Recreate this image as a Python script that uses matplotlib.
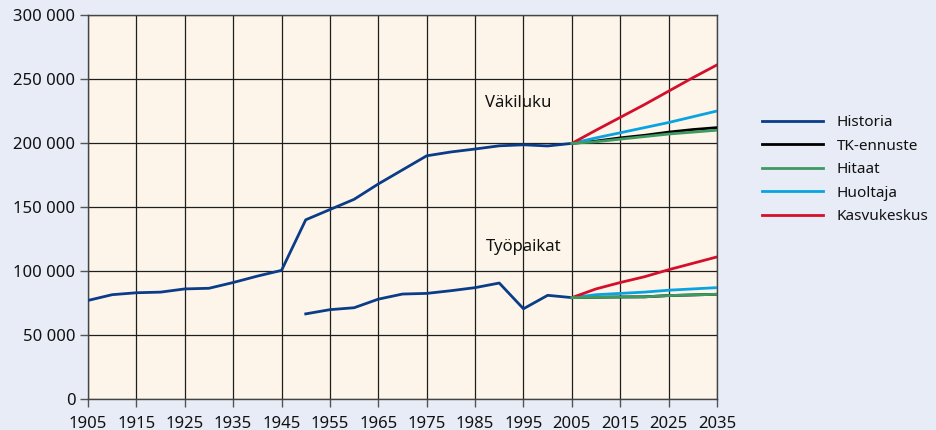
import matplotlib
matplotlib.use("Agg")
import matplotlib.pyplot as plt
from matplotlib.ticker import FuncFormatter, MultipleLocator

plt.rcParams['font.family'] = ['Noto Sans', 'DejaVu Sans']

# History
hist_years_pop = [1905, 1910, 1915, 1920, 1925, 1930, 1935, 1940, 1945, 1950, 1955, 1960,
                  1965, 1970, 1975, 1980, 1985, 1990, 1995, 2000, 2005]
hist_pop = [77000, 81500, 83000, 83500, 86000, 86500, 91000, 96000, 100500, 140000, 148000,
            156000, 168000, 179000, 190000, 193000, 195300, 197800, 198600, 197700, 199700]

hist_years_jobs = [1950, 1955, 1960, 1965, 1970, 1975, 1980, 1985, 1990, 1995, 2000, 2005]
hist_jobs = [66500, 69800, 71300, 78000, 82000, 82500, 84600, 87000, 90600, 70500, 81000, 79200]

# Projections
proj_years = [2005, 2010, 2015, 2020, 2025, 2030, 2035]
pop_tk = [199700, 201500, 204000, 206000, 208500, 210500, 212000]
pop_hitaat = [199700, 201000, 203000, 205000, 207000, 208500, 210000]
pop_huoltaja = [199700, 204000, 208000, 212000, 216000, 220500, 225000]
pop_kasvu = [199700, 210000, 220000, 230000, 240500, 251000, 261000]

jobs_tk = [79200, 79500, 79700, 79800, 80800, 81300, 81800]
jobs_hitaat = [79200, 79500, 79700, 79800, 80800, 81300, 81800]
jobs_huoltaja = [79200, 81500, 82500, 83500, 85000, 86000, 87000]
jobs_kasvu = [79200, 86000, 91000, 95500, 101000, 106000, 111000]

labels = ['Historia', 'TK-ennuste', 'Hitaat', 'Huoltaja', 'Kasvukeskus']
colors = ['#0b3c88', '#000000', '#3f9a62', '#0aa3e2', '#d40f2b']
xticks = list(range(1905, 2036, 10))

fig = plt.figure(figsize=(9.37, 4.30), dpi=100)
fig.patch.set_facecolor('#e8ecf6')
ax = fig.add_axes([88/937, 31/430, (717-88)/937, (399-15)/430])
ax.set_facecolor('#fef5ea')

lw = 2.0
ax.plot(hist_years_pop, hist_pop, color=colors[0], lw=lw, label=labels[0], zorder=3)
ax.plot(hist_years_jobs, hist_jobs, color=colors[0], lw=lw, zorder=3)
ax.plot(proj_years, pop_tk, color=colors[1], lw=lw, label=labels[1], zorder=3)
ax.plot(proj_years, jobs_tk, color=colors[1], lw=lw, zorder=3)
ax.plot(proj_years, pop_hitaat, color=colors[2], lw=lw, label=labels[2], zorder=4)
ax.plot(proj_years, jobs_hitaat, color=colors[2], lw=lw, zorder=4)
ax.plot(proj_years, pop_huoltaja, color=colors[3], lw=lw, label=labels[3], zorder=3)
ax.plot(proj_years, jobs_huoltaja, color=colors[3], lw=lw, zorder=3)
ax.plot(proj_years, pop_kasvu, color=colors[4], lw=lw, label=labels[4], zorder=3)
ax.plot(proj_years, jobs_kasvu, color=colors[4], lw=lw, zorder=3)

ax.set_xlim(1905, 2035)
ax.set_ylim(0, 300000)
ax.set_xticks(xticks)
ax.yaxis.set_major_locator(MultipleLocator(50000))
ax.yaxis.set_major_formatter(FuncFormatter(lambda v, p: f"{int(v):,}".replace(',', ' ')))
ax.grid(True, color='#1e1e1e', lw=0.9, zorder=1)
ax.set_axisbelow(True)
for s in ax.spines.values():
    s.set_color('#444444')
    s.set_linewidth(1.0)
ax.tick_params(axis='both', direction='out', length=6, width=1, color='#555555',
               labelsize=12, labelcolor='#111111')
ax.tick_params(axis='x', pad=6)
ax.tick_params(axis='y', pad=3)

ax.text(1994, 231000, 'Väkiluku', fontsize=12, color='#111111', ha='center', va='center', zorder=5)
ax.text(1995, 119000, 'Työpaikat', fontsize=12, color='#111111', ha='center', va='center', zorder=5)

leg = fig.legend(loc='upper left', bbox_to_anchor=(756/937, 1 - 109/430), frameon=False,
                 fontsize=11, handlelength=4.0, handletextpad=0.9, labelspacing=0.56,
                 borderaxespad=0)
for t in leg.get_texts():
    t.set_color('#111111')

fig.savefig('out.png', dpi=100, facecolor=fig.get_facecolor())
